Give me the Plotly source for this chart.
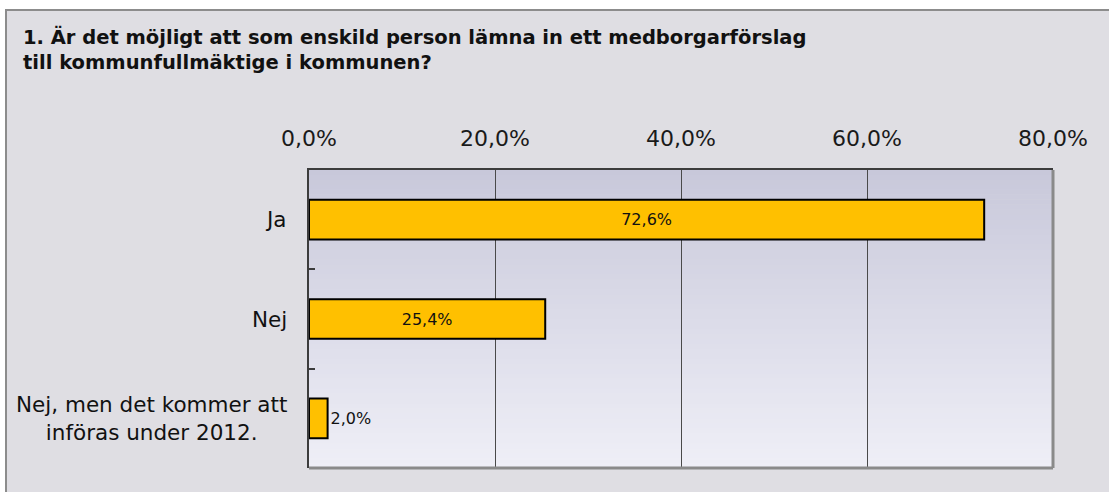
import plotly.graph_objects as go

categories = ["Ja", "Nej", "Nej, men det kommer att<br>införas under 2012."]
values = [72.6, 25.4, 2.0]
x_ticks = [0, 20, 40, 60, 80]
x_tick_labels = ["0,0%", "20,0%", "40,0%", "60,0%", "80,0%"]
title_text = ("1. Är det möjligt att som enskild person lämna in ett medborgarförslag<br>"
              "till kommunfullmäktige i kommunen?")

W, H = 1109, 492
L, R, T, B = 309, 56, 170, 24
PW, PH = W - L - R, H - T - B

def px(x):
    return (x - L) / PW

def py(y):
    return (H - B - y) / PH

fig = go.Figure()
fig.add_trace(go.Bar(
    y=categories, x=values, orientation="h", width=0.4,
    marker=dict(color="#FFC000", line=dict(color="#000000", width=2)),
    texttemplate="%{x:.1f}%",
    textposition=["inside", "inside", "outside"],
    insidetextanchor="middle",
    constraintext="none",
    cliponaxis=False,
    textfont=dict(family="DejaVu Sans", size=16, color="#111111"),
    hoverinfo="skip",
))

shapes = []
# outer frame
shapes.append(dict(type="rect", xref="paper", yref="paper",
                   x0=px(6), x1=px(1115), y0=py(500), y1=py(10),
                   line=dict(color="#8C8C8C", width=2), fillcolor="#DFDEE3", layer="below"))
# gradient plot background
n = 60
top = (200, 200, 218)
bot = (239, 239, 247)
for i in range(n):
    t = (i + 0.5) / n
    c = tuple(round(bot[k] + (top[k] - bot[k]) * t) for k in range(3))
    shapes.append(dict(type="rect", xref="x domain", yref="y domain",
                       x0=0, x1=1, y0=i / n, y1=(i + 1) / n + 0.002,
                       line=dict(width=0), fillcolor="rgb(%d,%d,%d)" % c, layer="below"))
# right & bottom border (gray)
shapes.append(dict(type="line", xref="x domain", yref="y domain", x0=1, x1=1, y0=0, y1=1,
                   line=dict(color="#8A8A8A", width=3), layer="above"))
shapes.append(dict(type="line", xref="x domain", yref="y domain", x0=0, x1=1, y0=0, y1=0,
                   line=dict(color="#8A8A8A", width=3), layer="above"))

annotations = []
annotations.append(dict(text="<b>" + title_text + "</b>", xref="paper", yref="paper",
                        x=px(21), y=py(50), xanchor="left", yanchor="middle", align="left",
                        showarrow=False,
                        font=dict(family="DejaVu Sans", size=19.5, color="#111111")))
for c in categories:
    annotations.append(dict(text=c, xref="paper", yref="y", x=px(289), y=c,
                            xanchor="right", yanchor="middle", align="center", showarrow=False,
                            font=dict(family="DejaVu Sans", size=21.5, color="#111111")))

fig.update_layout(
    width=W, height=H,
    margin=dict(l=L, r=R, t=T, b=B, pad=0),
    paper_bgcolor="#FFFFFF",
    plot_bgcolor="rgba(0,0,0,0)",
    separators=",.",
    showlegend=False,
    shapes=shapes,
    annotations=annotations,
    bargap=0.6,
)
fig.update_xaxes(
    side="top", range=[0, 80], tickvals=x_ticks, ticktext=x_tick_labels,
    showgrid=True, gridcolor="#4A4A4A", gridwidth=1,
    showline=True, linecolor="#3C3C3C", linewidth=1.5,
    ticks="", ticklabelstandoff=13, zeroline=False,
    tickfont=dict(family="DejaVu Sans", size=22, color="#1A1A1A"),
)
fig.update_yaxes(
    categoryorder="array", categoryarray=categories, autorange="reversed",
    showticklabels=False, showgrid=False, zeroline=False,
    showline=True, linecolor="#3C3C3C", linewidth=2,
    ticks="inside", tickson="boundaries", ticklen=6, tickwidth=1.5, tickcolor="#3C3C3C",
)

fig.write_html("out.html", config={"displayModeBar": False},
               post_script="document.body.style.margin='0px';")
